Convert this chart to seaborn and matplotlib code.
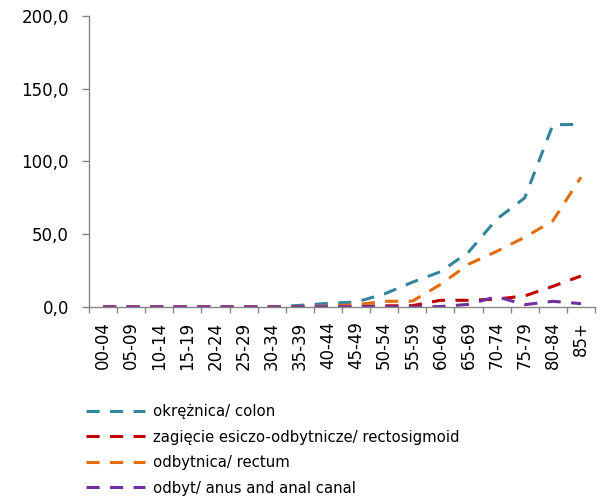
import matplotlib
matplotlib.use("Agg")
import matplotlib.pyplot as plt
import matplotlib.ticker as mticker
import numpy as np
import pandas as pd
import seaborn as sns

categories = ['00-04', '05-09', '10-14', '15-19', '20-24', '25-29', '30-34', '35-39',
              '40-44', '45-49', '50-54', '55-59', '60-64', '65-69', '70-74', '75-79',
              '80-84', '85+']
colon = [0, 0, 0, 0, 0, 0, 0.1, 1.1, 2.5, 3.4, 8.9, 17.0, 24.2, 37.7, 60.3, 75.0, 125.2, 125.5]
rectosigmoid = [0, 0, 0, 0, 0, 0, 0, 0.1, 0.3, 0.5, 0.8, 0.9, 4.6, 4.6, 5.4, 7.6, 14.2, 21.3]
rectum = [0, 0, 0, 0, 0, 0, 0.1, 0.3, 0.6, 1.5, 3.9, 4.0, 15.4, 29.4, 38.2, 47.9, 59.2, 89.2]
anus = [0, 0, 0, 0, 0, 0, 0, 0.1, 0.1, 0.2, 0.1, 0.0, 0.3, 1.8, 7.1, 1.6, 3.9, 2.3]

series_names = ['okrężnica/ colon',
                'zagięcie esiczo-odbytnicze/ rectosigmoid',
                'odbytnica/ rectum',
                'odbyt/ anus and anal canal']
series_values = [colon, rectosigmoid, rectum, anus]
colors = ['#31859C', '#C00000', '#E46C0A', '#7030A0']
y_ticks = [0, 50, 100, 150, 200]

rows = []
for name, vals in zip(series_names, series_values):
    for i, v in enumerate(vals):
        rows.append({'idx': i, 'value': v, 'series': name})
df = pd.DataFrame(rows)

sns.set_theme(style='white')
plt.rcParams['font.family'] = ['DejaVu Sans']
plt.rcParams['text.color'] = 'black'

fig = plt.figure(figsize=(6, 4.99), dpi=100)
ax = fig.add_axes([0.1483, 0.3848, 0.8434, 0.5832])

palette = dict(zip(series_names, colors))
dashes = {n: (4.3, 3.4) for n in series_names}
sns.lineplot(data=df, x='idx', y='value', hue='series', style='series',
             hue_order=series_names, style_order=series_names,
             palette=palette, dashes=dashes, linewidth=2.2, legend=False, ax=ax)

for ln in ax.lines:
    ln.set_dash_capstyle('butt')

ax.set_xlim(-0.5, len(categories) - 0.5)
ax.set_ylim(0, 200)
ax.set_xlabel('')
ax.set_ylabel('')

ax.set_xticks(range(len(categories)))
ax.set_xticklabels(categories, rotation=90, fontsize=12, color='black')
ax.set_xticks(np.arange(-0.5, len(categories), 1.0), minor=True)
ax.tick_params(axis='x', which='major', length=0, pad=10.5)
ax.tick_params(axis='x', which='minor', length=4.3, width=1.0, color='#868686', direction='out', bottom=True)

ax.set_yticks(y_ticks)
ax.yaxis.set_major_formatter(mticker.FuncFormatter(lambda v, p: f"{v:.1f}".replace('.', ',')))
ax.tick_params(axis='y', which='major', length=5, width=1.0, color='#868686', direction='out',
               left=True, pad=9.5, labelsize=12, labelcolor='black')

for s in ['top', 'right']:
    ax.spines[s].set_visible(False)
for s in ['left', 'bottom']:
    ax.spines[s].set_color('#868686')
    ax.spines[s].set_linewidth(1.0)
ax.grid(False)

handles = ax.lines[:4]
leg = fig.legend(handles, series_names, loc='upper left', bbox_to_anchor=(0.143, 0.19),
                 frameon=False, fontsize=10.75, handlelength=3.95, handletextpad=0.55,
                 labelspacing=0.70, borderaxespad=0, borderpad=0, labelcolor='black')

fig.savefig('out.png', dpi=100)
